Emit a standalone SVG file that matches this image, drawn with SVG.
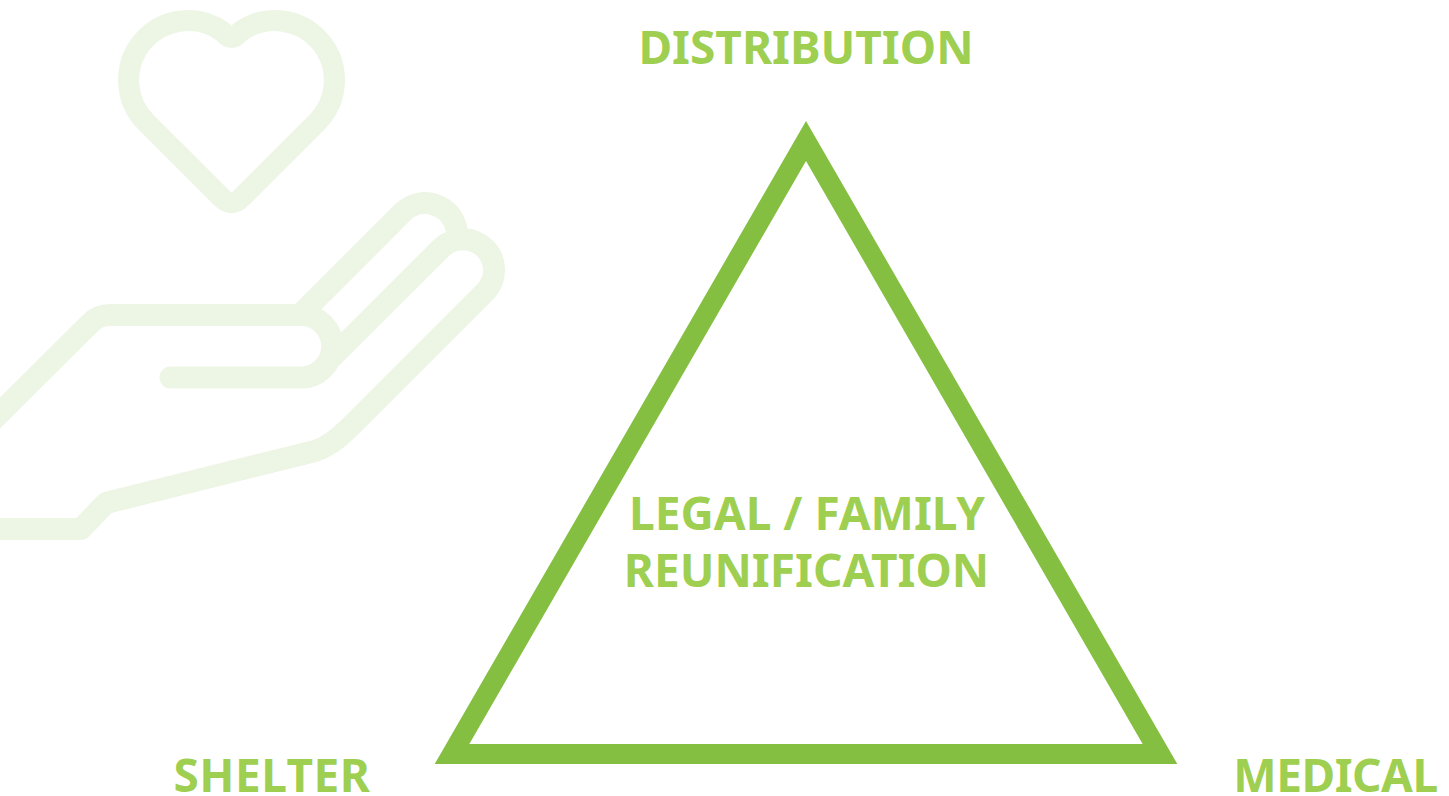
<svg xmlns="http://www.w3.org/2000/svg" width="1449" height="796" viewBox="0 0 1449 796">
<style>
.t{font-family:"Noto Sans","Liberation Sans",sans-serif;font-weight:700;font-size:46px;fill:#9ecf50;text-anchor:middle}
.i{fill:none;stroke:#edf5e5;stroke-width:22;stroke-linecap:round;stroke-linejoin:round}
</style>
<rect width="1449" height="796" fill="#fff"/>
<g id="icon">
<path class="i" style="stroke-width:21" d="M221.5 197.640L145.930 122.070A59.500 59.500 0 0 1 223 31.900Q231.500 43 240 31.900A59.500 59.500 0 0 1 317.070 122.070L241.500 197.640Q231.500 207.640 221.500 197.640Z"/>
<path class="i" d="M-10 423L90 323.500Q98 315 110 315L301 315A31.250 31.250 0 0 1 301 377.500L170.500 377.500"/>
<path class="i" d="M305 310L403 212A32 32 0 0 1 456.500 229"/>
<path class="i" d="M332 357L442 247.400A31 31 0 0 1 486 291L349 428C337 440 325 448 315 451L106 503L81 529L-10 529"/>
</g>
<g id="triangle"><path d="M806 141L1160 754H452Z" fill="none" stroke="#84bf41" stroke-width="20"/></g>
<g id="distribution"><text class="t" x="806" y="64">DISTRIBUTION</text></g>
<g id="legal"><text class="t" x="807" y="530">LEGAL / FAMILY</text><text class="t" x="806.500" y="587">REUNIFICATION</text></g>
<g id="shelter"><text class="t" x="272" y="792" style="letter-spacing:.5px">SHELTER</text></g>
<g id="medical"><text class="t" x="1335.500" y="792" style="letter-spacing:-.5px">MEDICAL</text></g>
</svg>
